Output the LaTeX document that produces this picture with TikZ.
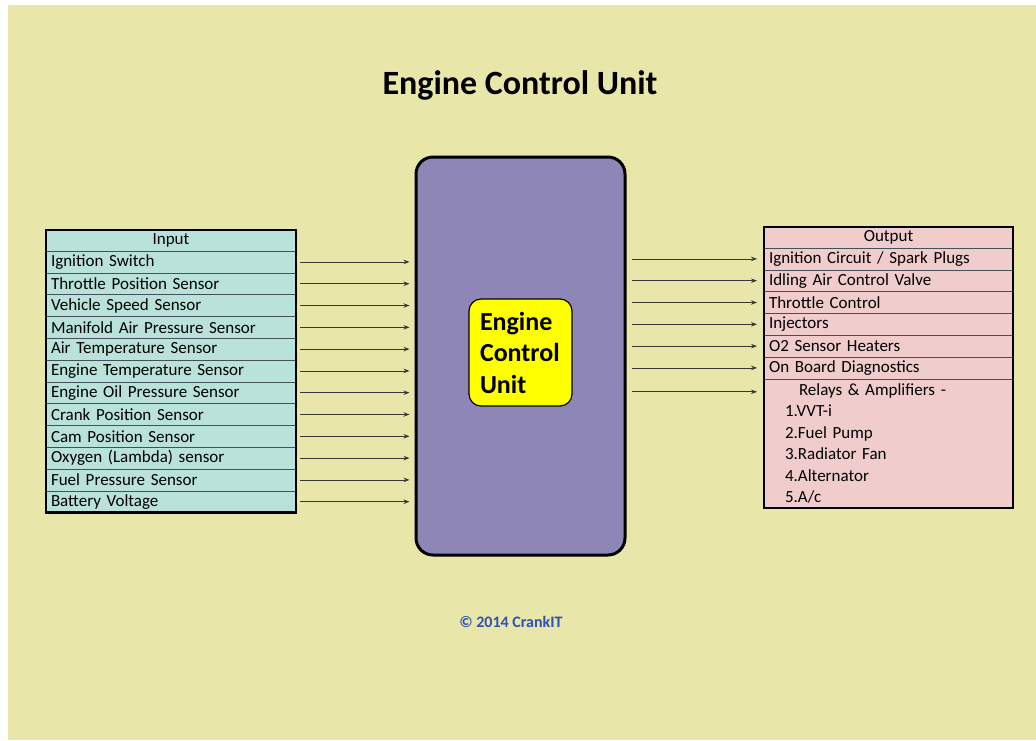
\documentclass[tikz,border=0pt]{standalone}
\usepackage{fontspec}
\setmainfont{Carlito}
\usetikzlibrary{positioning,arrows.meta}

\definecolor{pagebg}{RGB}{232,230,168}
\definecolor{infill}{RGB}{184,226,218}
\definecolor{outfill}{RGB}{240,204,204}
\definecolor{ecufill}{RGB}{143,134,184}
\definecolor{corefill}{RGB}{255,255,0}
\definecolor{rowline}{RGB}{70,80,90}
\definecolor{sigline}{RGB}{55,55,55}
\definecolor{copyblue}{RGB}{45,80,185}

\newcommand{\rowfont}{\fontsize{17}{20}\selectfont}

\begin{document}
\begin{tikzpicture}[x=1pt,y=-1pt,
    inrow/.style={draw=rowline,line width=0.6pt,fill=infill,minimum width=250pt,minimum height=21.8pt,
      text width=240pt,inner xsep=5pt,inner ysep=0pt,outer sep=0pt,align=left,font=\rowfont},
    outrow/.style={inrow,fill=outfill,minimum width=249pt,text width=239pt},
    sig/.style={draw=sigline,line width=0.8pt,-{Stealth[length=6pt,width=4.5pt]}}]
  \useasboundingbox (0,0) rectangle (1036,740);
  \fill[pagebg] (8,5) rectangle (1036,740);

  % heading and footer
  \node[font=\fontsize{34}{38}\selectfont\bfseries] (title) at (520,85) {Engine Control Unit};
  \node[font=\fontsize{16}{19}\selectfont\bfseries,text=copyblue] (copy) at (511,622) {\textcopyright{} 2014 CrankIT};

  % the unit itself
  \node[draw,line width=3pt,fill=ecufill,rounded corners=17pt,minimum width=209pt,minimum height=398pt] (ecu) at (520.5,356) {};
  \node[draw,line width=1.2pt,fill=corefill,rounded corners=12pt,minimum width=103pt,minimum height=107pt,
    text width=81pt,align=left,font=\fontsize{26}{31.5}\selectfont\bfseries] (core) at (520.5,352.5) {Engine\\Control\\Unit};

  % sensors going in
  \node[inrow,align=center,minimum height=21pt] (in0) at (171,240.5) {Input};
  \node[inrow,below=0pt of in0] (in1) {Ignition Switch};
  \node[inrow,below=0pt of in1] (in2) {Throttle Position Sensor};
  \node[inrow,below=0pt of in2] (in3) {Vehicle Speed Sensor};
  \node[inrow,below=0pt of in3] (in4) {Manifold Air Pressure Sensor};
  \node[inrow,below=0pt of in4] (in5) {Air Temperature Sensor};
  \node[inrow,below=0pt of in5] (in6) {Engine Temperature Sensor};
  \node[inrow,below=0pt of in6] (in7) {Engine Oil Pressure Sensor};
  \node[inrow,below=0pt of in7] (in8) {Crank Position Sensor};
  \node[inrow,below=0pt of in8] (in9) {Cam Position Sensor};
  \node[inrow,below=0pt of in9] (in10) {Oxygen (Lambda) sensor};
  \node[inrow,below=0pt of in10] (in11) {Fuel Pressure Sensor};
  \node[inrow,below=0pt of in11] (in12) {Battery Voltage};
  \draw[line width=2.4pt] (in0.north west) rectangle (in12.south east);

  % actuators coming out
  \node[outrow,align=center,minimum height=21pt] (out0) at (888.5,237.5) {Output};
  \node[outrow,below=0pt of out0] (out1) {Ignition Circuit / Spark Plugs};
  \node[outrow,below=0pt of out1] (out2) {Idling Air Control Valve};
  \node[outrow,below=0pt of out2] (out3) {Throttle Control};
  \node[outrow,below=0pt of out3] (out4) {Injectors};
  \node[outrow,below=0pt of out4] (out5) {O2 Sensor Heaters};
  \node[outrow,below=0pt of out5] (out6) {On Board Diagnostics};
  \node[outrow,below=0pt of out6,minimum height=129.4pt,inner ysep=0pt,
    font=\fontsize{17}{21.5}\selectfont] (rel)
    {\hspace{30pt}Relays \& Amplifiers -\\
     \hspace{16pt}1.VVT-i\\
     \hspace{16pt}2.Fuel Pump\\
     \hspace{16pt}3.Radiator Fan\\
     \hspace{16pt}4.Alternator\\
     \hspace{16pt}5.A/c};
  \coordinate (relin) at ([yshift=-13pt]rel.north west);
  \draw[line width=2.4pt] (out0.north west) rectangle (rel.south east);

  % signals into the unit
  \draw[sig,shorten >=5pt] ([xshift=4pt]in1.east) -- (in1.east -| ecu.west);
  \draw[sig,shorten >=5pt] ([xshift=4pt]in2.east) -- (in2.east -| ecu.west);
  \draw[sig,shorten >=5pt] ([xshift=4pt]in3.east) -- (in3.east -| ecu.west);
  \draw[sig,shorten >=5pt] ([xshift=4pt]in4.east) -- (in4.east -| ecu.west);
  \draw[sig,shorten >=5pt] ([xshift=4pt]in5.east) -- (in5.east -| ecu.west);
  \draw[sig,shorten >=5pt] ([xshift=4pt]in6.east) -- (in6.east -| ecu.west);
  \draw[sig,shorten >=5pt] ([xshift=4pt]in7.east) -- (in7.east -| ecu.west);
  \draw[sig,shorten >=5pt] ([xshift=4pt]in8.east) -- (in8.east -| ecu.west);
  \draw[sig,shorten >=5pt] ([xshift=4pt]in9.east) -- (in9.east -| ecu.west);
  \draw[sig,shorten >=5pt] ([xshift=4pt]in10.east) -- (in10.east -| ecu.west);
  \draw[sig,shorten >=5pt] ([xshift=4pt]in11.east) -- (in11.east -| ecu.west);
  \draw[sig,shorten >=5pt] ([xshift=4pt]in12.east) -- (in12.east -| ecu.west);

  % signals out of the unit
  \draw[sig,shorten <=5pt,shorten >=7pt] (out1.west -| ecu.east) -- (out1.west);
  \draw[sig,shorten <=5pt,shorten >=7pt] (out2.west -| ecu.east) -- (out2.west);
  \draw[sig,shorten <=5pt,shorten >=7pt] (out3.west -| ecu.east) -- (out3.west);
  \draw[sig,shorten <=5pt,shorten >=7pt] (out4.west -| ecu.east) -- (out4.west);
  \draw[sig,shorten <=5pt,shorten >=7pt] (out5.west -| ecu.east) -- (out5.west);
  \draw[sig,shorten <=5pt,shorten >=7pt] (out6.west -| ecu.east) -- (out6.west);
  \draw[sig,shorten <=5pt,shorten >=7pt] (relin -| ecu.east) -- (relin);
\end{tikzpicture}
\end{document}
